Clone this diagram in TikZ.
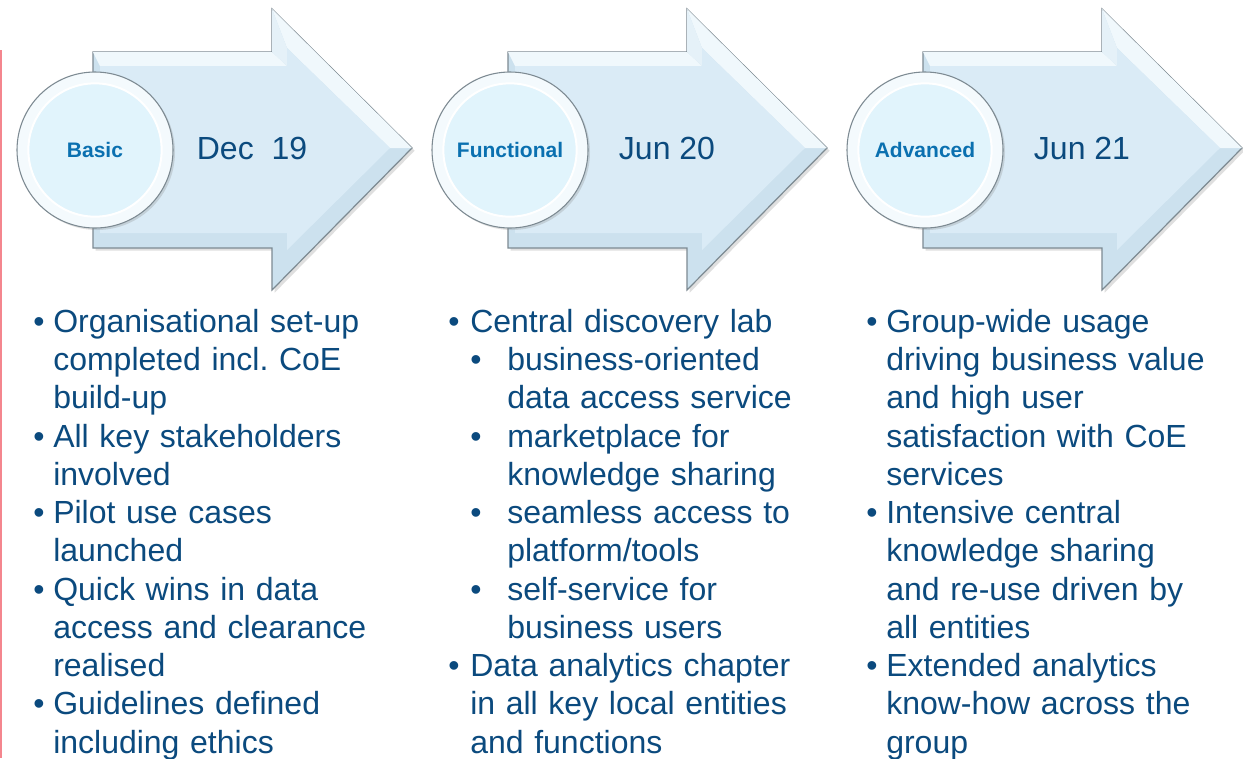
\documentclass[tikz,border=0pt]{standalone}
\usepackage{fontspec}
\setmainfont{Liberation Sans}
\usetikzlibrary{positioning,shadows}
\definecolor{arrowfill}{HTML}{DAEBF6}
\definecolor{bevelfill}{HTML}{CCE1EE}
\definecolor{bevellight}{HTML}{F0F8FC}
\definecolor{arrowline}{HTML}{7D8A92}
\definecolor{ringfill}{HTML}{F4FAFD}
\definecolor{discfill}{HTML}{E1F4FC}
\definecolor{labelblue}{HTML}{0A70B0}
\definecolor{textblue}{HTML}{0B4A7E}
\definecolor{edgepink}{HTML}{F4868E}
\tikzset{%
  every ring/.style={circle,draw=arrowline,fill=ringfill,line width=0.8pt,minimum size=117pt,inner sep=0pt,
    drop shadow={shadow xshift=1.5pt,shadow yshift=-1.5pt,opacity=.25}},
  every disc/.style={circle,draw=white,fill=discfill,line width=1.5pt,minimum size=100pt,inner sep=0pt,
    font=\bfseries\fontsize{15.75}{18}\selectfont,text=labelblue},
}
% bullet list used below the arrows
\newenvironment{stagelist}[1][15pt]{%
  \begin{list}{\textbullet}{\setlength{\leftmargin}{#1}\setlength{\labelwidth}{#1}%
    \setlength{\labelsep}{0pt}\setlength{\itemsep}{0pt}\setlength{\parsep}{0pt}%
    \setlength{\topsep}{0pt}\setlength{\partopsep}{0pt}\renewcommand{\makelabel}[1]{##1\hfil}}}%
  {\end{list}}
\frenchspacing
\begin{document}
\begin{tikzpicture}[x=0.75pt,y=-0.75pt,
    when/.style={font=\fontsize{24}{28}\selectfont,text=textblue,anchor=base},
    notes/.style={font=\fontsize{24}{28.7}\selectfont,text=textblue,align=left,
      text width=300pt,inner sep=0pt,anchor=base west},
    >=latex
  ]
  \useasboundingbox (0,0) rectangle (1243,758);
  \fill[white] (0,0) rectangle (1243,758);
  \draw[edgepink,line width=1.2pt] (1,50) -- (1,758);

  \foreach \i/\lbl/\date in {0/Basic/{Dec\ \ 19},1/Functional/{Jun 20},2/Advanced/{Jun 21}}
  {
    \begin{scope}[shift={(\i*415,0)}]
      % arrow with bevel
      \filldraw[fill=bevelfill,draw=arrowline,line width=0.9pt,
        drop shadow={shadow xshift=2pt,shadow yshift=-2pt,opacity=.25}]
        (93,52) -- (272,52) -- (272,9) -- (412,148) -- (272,290) -- (272,248) -- (93,248) -- cycle;
      \fill[bevellight] (93,52) -- (272,52) -- (287,66) -- (100,66) -- cycle;
      \fill[bevellight] (272,9) -- (412,148) -- (390,148) -- (287,48) -- cycle;
      \fill[bevellight!70!bevelfill] (272,52) -- (272,9) -- (287,48) -- (287,66) -- cycle;
      \fill[arrowfill] (100,66) -- (287,66) -- (287,48) -- (390,148) -- (287,250) -- (287,233) -- (100,233) -- cycle;
      % phase circle
      \node[every ring] (ring\i) at (95,150) {};
      \node[every disc] (disc\i) at (ring\i) {\lbl};
      \node[when] (when\i) at (252,159) {\date};
    \end{scope}
  }

  \node[notes] (notes0) at (33,294) {%
    \begin{stagelist}
    \item Organisational set-up\newline completed incl. CoE\newline build-up
    \item All key stakeholders\newline involved
    \item Pilot use cases\newline launched
    \item Quick wins in data\newline access and clearance\newline realised
    \item Guidelines defined\newline including ethics
    \end{stagelist}};
  \node[notes] (notes1) at (448,294) {%
    \begin{stagelist}[16.5pt]
    \item Central discovery lab
      \begin{stagelist}[27.75pt]
      \item business-oriented\newline data access service
      \item marketplace for\newline knowledge sharing
      \item seamless access to\newline platform/tools
      \item self-service for\newline business users
      \end{stagelist}
    \item Data analytics chapter\newline in all key local entities\newline and functions
    \end{stagelist}};
  \node[notes] (notes2) at (866,294) {%
    \begin{stagelist}
    \item Group-wide usage\newline driving business value\newline and high user\newline satisfaction with CoE\newline services
    \item Intensive central\newline knowledge sharing\newline and re-use driven by\newline all entities
    \item Extended analytics\newline know-how across the\newline group
    \end{stagelist}};
\end{tikzpicture}
\end{document}
